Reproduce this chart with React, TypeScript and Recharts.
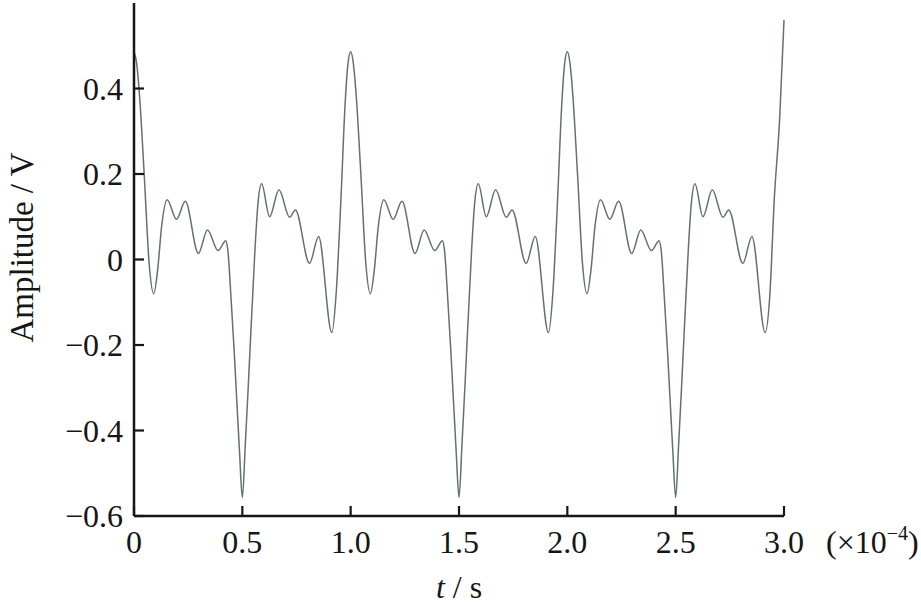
import React from 'react';
import { LineChart, Line, XAxis, YAxis, Label } from 'recharts';

// time in units of 1e-4 s
const timeValues = [
  0.000, 0.012, 0.026, 0.047, 0.070, 0.091, 0.110, 0.127, 0.153, 0.196, 0.237, 0.297,
  0.339, 0.388, 0.424, 0.433, 0.449, 0.463, 0.487, 0.500, 0.514, 0.528, 0.558, 0.572,
  0.589, 0.626, 0.669, 0.718, 0.745, 0.810, 0.852, 0.913, 0.933, 0.955, 0.975, 0.988,
  1.000, 1.012, 1.026, 1.047, 1.070, 1.091, 1.110, 1.127, 1.153, 1.196, 1.237, 1.297,
  1.339, 1.388, 1.424, 1.433, 1.449, 1.463, 1.487, 1.500, 1.514, 1.528, 1.558, 1.572,
  1.589, 1.626, 1.669, 1.718, 1.745, 1.810, 1.852, 1.913, 1.933, 1.955, 1.975, 1.988,
  2.000, 2.012, 2.026, 2.047, 2.070, 2.091, 2.110, 2.127, 2.153, 2.196, 2.237, 2.297,
  2.339, 2.388, 2.424, 2.433, 2.449, 2.463, 2.487, 2.500, 2.514, 2.528, 2.558, 2.572,
  2.589, 2.626, 2.669, 2.718, 2.745, 2.810, 2.852, 2.913, 2.935, 2.955, 2.980, 3.000,
];

const amplitudeValues = [
  0.486, 0.46, 0.38, 0.20, -0.01, -0.080, -0.02, 0.075, 0.140, 0.094, 0.136, 0.014,
  0.069, 0.021, 0.044, 0.022, -0.10, -0.22, -0.45, -0.557, -0.43, -0.29, 0.02, 0.13,
  0.177, 0.100, 0.163, 0.099, 0.116, -0.009, 0.054, -0.171, -0.08, 0.14, 0.37, 0.46,
  0.486, 0.46, 0.38, 0.20, -0.01, -0.080, -0.02, 0.075, 0.140, 0.094, 0.136, 0.014,
  0.069, 0.021, 0.044, 0.022, -0.10, -0.22, -0.45, -0.557, -0.43, -0.29, 0.02, 0.13,
  0.177, 0.100, 0.163, 0.099, 0.116, -0.009, 0.054, -0.171, -0.08, 0.14, 0.37, 0.46,
  0.486, 0.46, 0.38, 0.20, -0.01, -0.080, -0.02, 0.075, 0.140, 0.094, 0.136, 0.014,
  0.069, 0.021, 0.044, 0.022, -0.10, -0.22, -0.45, -0.557, -0.43, -0.29, 0.02, 0.13,
  0.177, 0.100, 0.163, 0.099, 0.116, -0.009, 0.054, -0.171, -0.08, 0.14, 0.33, 0.56,
];

const xTicks = [0, 0.5, 1.0, 1.5, 2.0, 2.5, 3.0];
const yTicks = [-0.6, -0.4, -0.2, 0, 0.2, 0.4];
const xTitleItalic = 't';
const xTitleRest = ' / s';
const xScaleText = '(×10';
const xScaleExp = '−4';
const yTitle = 'Amplitude / V';

const data = timeValues.map((t, i) => ({ t, v: amplitudeValues[i] }));

const FONT = '"Liberation Serif", "Times New Roman", Times, serif';
const INK = '#161616';
const AXIS_TICK_SIZE = 6;
const Y_MARGIN = 5;
const X_MARGIN = 6;
const TICK_LEN = 10;

const fmt = (v: number) => (v === 0 ? '0' : v.toFixed(1).replace('-', '\u2212'));

const renderYTick = (props: any) => {
  const x0 = Number(props.x);
  const y0 = Number(props.y);
  const axisX = x0 + AXIS_TICK_SIZE + Y_MARGIN;
  return (
    <g key={`yt-${props.index}`}>
      <line x1={axisX} x2={axisX + TICK_LEN} y1={y0} y2={y0} stroke={INK} strokeWidth={2.2} />
      <text x={x0} y={y0 + 11} textAnchor="end" fontFamily={FONT} fontSize={32} fill={INK}>
        {fmt(props.payload.value)}
      </text>
    </g>
  );
};

const renderXTick = (props: any) => {
  const x0 = Number(props.x);
  const y0 = Number(props.y);
  const axisY = y0 - AXIS_TICK_SIZE - X_MARGIN;
  return (
    <g key={`xt-${props.index}`}>
      <line x1={x0} x2={x0} y1={axisY} y2={axisY - TICK_LEN} stroke={INK} strokeWidth={2.2} />
      <text x={x0} y={axisY + 37} textAnchor="middle" fontFamily={FONT} fontSize={32} fill={INK}>
        {fmt(props.payload.value)}
      </text>
    </g>
  );
};

function XTitle(props: any) {
  const vb = props.viewBox || {};
  const { x = 0, y = 0, width = 0 } = vb;
  return (
    <g>
      <text x={x + width / 2} y={y + 82} textAnchor="middle" fontFamily={FONT} fontSize={32} fill={INK}>
        <tspan fontStyle="italic">{xTitleItalic}</tspan>
        {xTitleRest}
      </text>
      <text x={x + width + 42} y={y + 37} fontFamily={FONT} fontSize={32} fill={INK}>
        {xScaleText}
        <tspan fontSize={20} dy={-13}>{xScaleExp}</tspan>
        <tspan dy={13}>)</tspan>
      </text>
    </g>
  );
}

function YTitle(props: any) {
  const vb = props.viewBox || {};
  const { x = 0, y = 0, height = 0 } = vb;
  const cx = x + 22;
  const cy = y + height / 2 - 12;
  return (
    <text
      x={cx}
      y={cy}
      transform={`rotate(-90, ${cx}, ${cy})`}
      textAnchor="middle"
      dominantBaseline="central"
      fontFamily={FONT}
      fontSize={33}
      fill={INK}
    >
      {yTitle}
    </text>
  );
}

export default function App() {
  return (
    <div style={{ position: 'absolute', left: 0, top: 0, width: 921, height: 612, background: '#fff' }}>
      <LineChart width={921} height={612} data={data} margin={{ top: 3, right: 137, bottom: 0, left: 0 }}>
        <XAxis
          dataKey="t"
          type="number"
          domain={[0, 3]}
          ticks={xTicks}
          height={96}
          interval={0}
          tickSize={AXIS_TICK_SIZE}
          tickMargin={X_MARGIN}
          axisLine={{ stroke: INK, strokeWidth: 2.5 }}
          tickLine={false}
          tick={renderXTick}
        >
          <Label content={XTitle} />
        </XAxis>
        <YAxis
          type="number"
          domain={[-0.6, 0.6]}
          ticks={yTicks}
          width={134}
          interval={0}
          tickSize={AXIS_TICK_SIZE}
          tickMargin={Y_MARGIN}
          axisLine={{ stroke: INK, strokeWidth: 2.5 }}
          tickLine={false}
          tick={renderYTick}
        >
          <Label content={YTitle} />
        </YAxis>
        <Line
          dataKey="v"
          type="monotone"
          stroke="#647170"
          strokeWidth={1.5}
          dot={false}
          isAnimationActive={false}
        />
      </LineChart>
    </div>
  );
}
